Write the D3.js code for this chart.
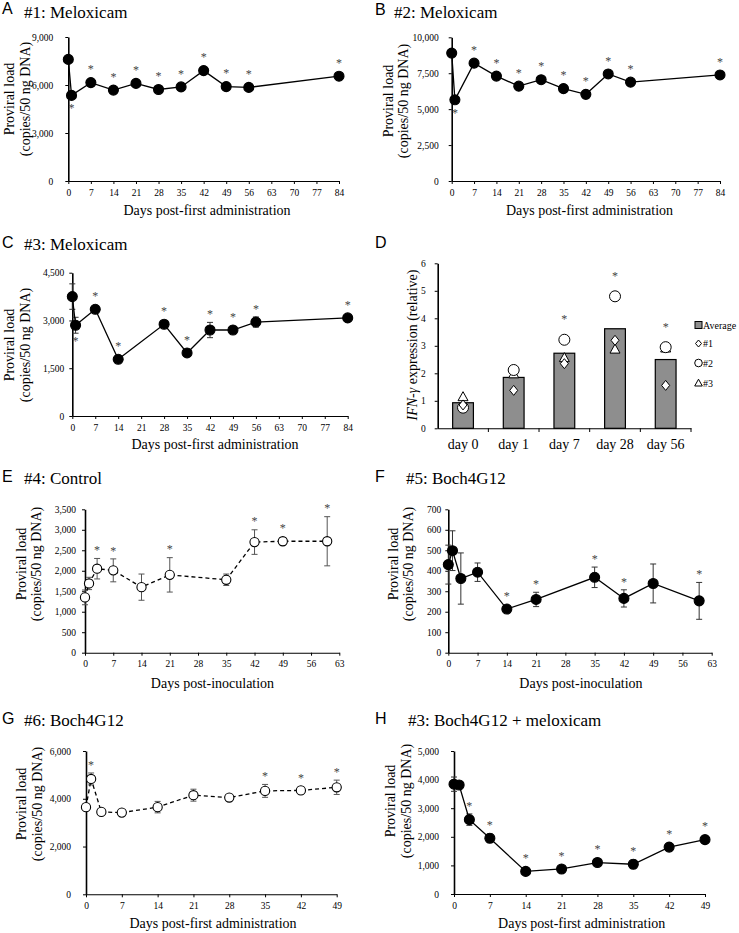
<!DOCTYPE html>
<html><head><meta charset="utf-8">
<script src="https://cdn.jsdelivr.net/npm/d3@7"></script>
<style>body{margin:0;background:#fff}</style>
</head><body>
<svg id="c" width="739" height="933" style="display:block"></svg>
<script>
// ---------- DATA ----------
const daysA = [0,1,7,14,21,28,35,42,49,56,84];
const loadA = [7600,5350,6150,5680,6100,5720,5880,6900,5900,5850,6550];
const errA  = [120,80,180,60,60,130,60,60,60,200,60];
const starsA = [7,14,21,28,35,42,49,56,84];
const belowA = [1];

const daysB = [0,1,7,14,21,28,35,42,49,56,84];
const loadB = [8900,5650,8200,7300,6600,7050,6430,6030,7450,6880,7380];
const errB  = [60,60,60,60,60,60,60,60,60,60,60];
const starsB = [7,14,21,28,35,42,49,56,84];
const belowB = [1];

const daysC = [0,1,7,14,28,35,42,49,56,84];
const loadC = [3750,2850,3350,1780,2880,1980,2700,2700,2950,3080];
const errC  = [400,250,40,40,40,40,240,40,160,40];
const starsC = [7,14,28,35,42,49,56,84];
const belowC = [1];

const ifnDays = ["day 0","day 1","day 7","day 28","day 56"];
const ifnAvg  = [0.93,1.85,2.73,3.62,2.50];
const ifn1    = [0.85,1.38,2.35,3.20,1.56];   // #1 diamonds
const ifn2    = [0.75,2.12,3.22,4.80,2.95];   // #2 circles
const ifn3    = [1.15,1.98,2.57,2.88,2.92];   // #3 triangles
const ifnStars = ["day 7","day 28","day 56"];
const ifnLegend = ["Average","#1","#2","#3"];
const ifnTicks = [0,1,2,3,4,5,6];

const daysE = [0,1,3,7,14,21,35,42,49,60];
const loadE = [1350,1690,2050,2010,1600,1900,1780,2700,2720,2720];
const errE  = [180,150,250,280,320,420,140,300,90,600];
const starsE = [3,7,21,42,49,60];

const daysF = [0,1,3,7,14,21,35,42,49,60];
const loadF = [430,498,362,393,213,260,368,265,338,253];
const errF  = [95,97,125,45,10,35,50,42,95,90];
const starsF = [14,21,35,42,60];

const daysG = [0,1,3,7,14,21,28,35,42,49];
const loadG = [3650,4830,3450,3420,3650,4150,4050,4330,4350,4480];
const errG  = [150,250,100,60,240,250,80,270,150,300];
const starsG = [1,35,42,49];

const daysH = [0,1,3,7,14,21,28,35,42,49];
const loadH = [3840,3810,2600,1950,790,875,1100,1040,1640,1900];
const errH  = [250,60,200,150,60,60,100,150,60,70];
const starsH = [3,7,14,21,28,35,42,49];

const xTicks84 = [0,7,14,21,28,35,42,49,56,63,70,77,84];
const xTicks63 = [0,7,14,21,28,35,42,49,56,63];
const xTicks49 = [0,7,14,21,28,35,42,49];
const yTicksA = [0,3000,6000,9000];
const yTicksB = [0,2500,5000,7500,10000];
const yTicksC = [0,1500,3000,4500];
const yTicksE = [0,500,1000,1500,2000,2500,3000,3500];
const yTicksF = [0,100,200,300,400,500,600,700];
const yTicksG = [0,2000,4000,6000];
const yTicksH = [0,1000,2000,3000,4000,5000];

// ---------- DRAWING ----------
const SERIF = "'Liberation Serif','Times New Roman',serif";
const SANS = "'Liberation Sans',Arial,sans-serif";
const svg = d3.select("#c");

function heading(letter, lx, ly, title, tx, ty) {
  svg.append("text").attr("x", lx).attr("y", ly).attr("font-family", SANS)
    .attr("font-size", 16).attr("fill", "#000").text(letter);
  if (title) svg.append("text").attr("x", tx).attr("y", ty).attr("font-family", SERIF)
    .attr("font-size", 17).attr("fill", "#000").text(title);
}

function yTitle2(x1, x2, cy) {
  [["Proviral load", x1], ["(copies/50 ng DNA)", x2]].forEach(([t, xx]) => {
    svg.append("text").attr("transform", `translate(${xx},${cy}) rotate(-90)`)
      .attr("text-anchor", "middle").attr("dominant-baseline", "central")
      .attr("font-family", SERIF).attr("font-size", 14).attr("fill", "#000").text(t);
  });
}

function linePanel(p) {
  const g = svg.append("g");
  const x = d3.scaleLinear().domain([0, p.xMax]).range([p.xl, p.xr]);
  const y = d3.scaleLinear().domain([0, p.yMax]).range([p.yb, p.yt]);

  const xa = g.append("g").attr("transform", `translate(0,${p.yb})`)
    .call(d3.axisBottom(x).tickValues(p.xTicks).tickFormat(d3.format("d")).tickSize(3).tickSizeOuter(0).tickPadding(5));
  xa.select(".domain").attr("stroke", "#000").attr("stroke-width", 1.1);
  xa.selectAll("line").attr("stroke", "#000");
  xa.selectAll("text").attr("font-family", SERIF).attr("font-size", 9.5).attr("fill", "#000");

  const ya = g.append("g").attr("transform", `translate(${p.xl},0)`)
    .call(d3.axisLeft(y).tickValues(p.yTicks).tickFormat(d3.format(",")).tickSize(3).tickSizeOuter(0).tickPadding(p.yPad));
  ya.select(".domain").attr("stroke", "#000").attr("stroke-width", 1.6);
  ya.selectAll("line").attr("stroke", "#000");
  ya.selectAll("text").attr("font-family", SERIF).attr("font-size", 9.5).attr("fill", "#000");

  const pts = p.days.map((d, i) => ({ d, v: p.vals[i], e: p.errs[i] }));
  const r = p.open ? 4.6 : 5;

  const eb = g.append("g").attr("stroke", p.open ? "#555" : "#333").attr("stroke-width", 1).attr("fill", "none");
  pts.forEach(o => {
    const cx = x(o.d), t = y(o.v + o.e), b = y(o.v - o.e);
    eb.append("line").attr("x1", cx).attr("x2", cx).attr("y1", t).attr("y2", b);
    eb.append("line").attr("x1", cx - 3).attr("x2", cx + 3).attr("y1", t).attr("y2", t);
    eb.append("line").attr("x1", cx - 3).attr("x2", cx + 3).attr("y1", b).attr("y2", b);
  });

  g.append("path").datum(pts)
    .attr("d", d3.line().x(o => x(o.d)).y(o => y(o.v)))
    .attr("fill", "none").attr("stroke", "#000").attr("stroke-width", 1.3)
    .attr("stroke-dasharray", p.open ? "4,3" : null);

  g.selectAll("circle.m").data(pts).join("circle")
    .attr("cx", o => x(o.d)).attr("cy", o => y(o.v)).attr("r", r)
    .attr("fill", p.open ? "#fff" : "#000").attr("stroke", "#000").attr("stroke-width", 1.1);

  const byDay = d => pts.find(o => o.d === d);
  (p.stars || []).forEach(d => {
    const o = byDay(d);
    const top = Math.min(y(o.v + o.e), y(o.v) - r);
    g.append("text").attr("x", x(d)).attr("y", top - 4.3).attr("text-anchor", "middle")
      .attr("font-family", SERIF).attr("font-size", 12).attr("fill", "#444").text("*");
  });
  (p.below || []).forEach(d => {
    const o = byDay(d);
    const bot = Math.max(y(o.v - o.e), y(o.v) + r);
    g.append("text").attr("x", x(d)).attr("y", bot + 12).attr("text-anchor", "middle")
      .attr("font-family", SERIF).attr("font-size", 12).attr("fill", "#444").text("*");
  });

  svg.append("text").attr("x", p.xtX).attr("y", p.xtY).attr("text-anchor", "middle")
    .attr("font-family", SERIF).attr("font-size", 14).attr("fill", "#000").text(p.xTitle);
  yTitle2(p.yl1, p.yl2, p.ylc);
}

// Panel A
heading("A", 2, 14, "#1: Meloxicam", 24, 18);
linePanel({xl: 68.3, xr: 339, yt: 37, yb: 181, xMax: 84, yMax: 9000, xTicks: xTicks84, yTicks: yTicksA, yPad: 12,
  days: daysA, vals: loadA, errs: errA, stars: starsA, below: belowA, open: false,
  xTitle: "Days post-first administration", xtX: 207, xtY: 215, yl1: 9.5, yl2: 25, ylc: 99});

// Panel B
heading("B", 375, 15, "#2: Meloxicam", 394, 18);
linePanel({xl: 451.7, xr: 720, yt: 37.3, yb: 181, xMax: 84, yMax: 10000, xTicks: xTicks84, yTicks: yTicksB, yPad: 10,
  days: daysB, vals: loadB, errs: errB, stars: starsB, below: belowB, open: false,
  xTitle: "Days post-first administration", xtX: 589.5, xtY: 215, yl1: 388.3, yl2: 403.3, ylc: 101});

// Panel C
heading("C", 2, 248, "#3: Meloxicam", 24, 250);
linePanel({xl: 72.3, xr: 347.7, yt: 272.7, yb: 416, xMax: 84, yMax: 4500, xTicks: xTicks84, yTicks: yTicksC, yPad: 5,
  days: daysC, vals: loadC, errs: errC, stars: starsC, below: belowC, open: false,
  xTitle: "Days post-first administration", xtX: 215, xtY: 449, yl1: 9.5, yl2: 25, ylc: 345});

// Panel D
heading("D", 375, 248, null);
(function () {
  const g = svg.append("g");
  const xb = d3.scaleBand().domain(ifnDays).range([437.7, 691]).padding(0);
  const y = d3.scaleLinear().domain([0, 6]).range([428.3, 263.3]);
  const bw = xb.bandwidth(), barW = bw * 0.41;

  g.selectAll("rect.bar").data(ifnDays).join("rect")
    .attr("x", (c) => xb(c) + (bw - barW) / 2).attr("width", barW)
    .attr("y", (c, i) => y(ifnAvg[i])).attr("height", (c, i) => y(0) - y(ifnAvg[i]))
    .attr("fill", "#8e8e8e").attr("stroke", "#000").attr("stroke-width", 1.2);

  const ya = g.append("g").attr("transform", "translate(437.7,0)")
    .call(d3.axisLeft(y).tickValues(ifnTicks).tickFormat(d3.format("d")).tickSize(3).tickSizeOuter(0).tickPadding(9));
  ya.select(".domain").attr("stroke", "#000").attr("stroke-width", 1.6);
  ya.selectAll("line").attr("stroke", "#000");
  ya.selectAll("text").attr("font-family", SERIF).attr("font-size", 9.5).attr("fill", "#000");

  const xa = g.append("g").attr("transform", "translate(0,428.3)")
    .call(d3.axisBottom(xb).tickSize(0).tickSizeOuter(0).tickPadding(11));
  xa.select(".domain").attr("stroke", "#000").attr("stroke-width", 1.1);
  xa.selectAll("text").attr("font-family", SERIF).attr("font-size", 14).attr("fill", "#000");
  ifnDays.forEach(c => {
    const bx = xb(c) + bw;
    g.append("line").attr("x1", bx).attr("x2", bx).attr("y1", 428.3).attr("y2", 432).attr("stroke", "#000");
  });

  const diamond = "M0,-5L4,0L0,5L-4,0Z";
  const tri = "M0,-5L5,4L-5,4Z";
  const mk = (sel) => sel.attr("fill", "#fff").attr("stroke", "#000").attr("stroke-width", 1);
  ifnDays.forEach((c, i) => {
    const cx = xb(c) + bw / 2;
    mk(g.append("path").attr("d", tri).attr("transform", `translate(${cx},${y(ifn3[i])})`));
    mk(g.append("circle").attr("cx", cx).attr("cy", y(ifn2[i])).attr("r", 5.5));
    mk(g.append("path").attr("d", diamond).attr("transform", `translate(${cx},${y(ifn1[i])})`));
  });
  ifnStars.forEach(c => {
    const i = ifnDays.indexOf(c);
    const mx = Math.max(ifn1[i], ifn2[i], ifn3[i]);
    g.append("text").attr("x", xb(c) + bw / 2).attr("y", y(mx) - 5.5 - 11).attr("text-anchor", "middle")
      .attr("font-family", SERIF).attr("font-size", 12).attr("fill", "#444").text("*");
  });

  const ly = [325, 343.5, 363, 383];
  ifnLegend.forEach((t, i) => {
    const lg = g.append("g").attr("transform", `translate(698.5,${ly[i]})`);
    if (i === 0) lg.append("rect").attr("x", -3.5).attr("y", -3.5).attr("width", 7).attr("height", 7)
      .attr("fill", "#8e8e8e").attr("stroke", "#000");
    if (i === 1) mk(lg.append("path").attr("d", "M0,-3.5L3,0L0,3.5L-3,0Z"));
    if (i === 2) mk(lg.append("circle").attr("r", 3.8));
    if (i === 3) mk(lg.append("path").attr("d", "M0,-3.8L3.8,3L-3.8,3Z"));
    lg.append("text").attr("x", 4.5).attr("y", 0).attr("dominant-baseline", "central")
      .attr("font-family", SERIF).attr("font-size", 10).attr("fill", "#000").text(t);
  });

  const yt = svg.append("text").attr("transform", "translate(412,345) rotate(-90)")
    .attr("text-anchor", "middle").attr("dominant-baseline", "central")
    .attr("font-family", SERIF).attr("font-size", 14).attr("fill", "#000");
  yt.append("tspan").attr("font-style", "italic").text("IFN-γ");
  yt.append("tspan").text(" expression (relative)");
})();

// Panel E
heading("E", 2, 482, "#4: Control", 24, 483.5);
linePanel({xl: 85, xr: 339.3, yt: 509.3, yb: 652.7, xMax: 63, yMax: 3500, xTicks: xTicks63, yTicks: yTicksE, yPad: 6,
  days: daysE, vals: loadE, errs: errE, stars: starsE, open: true,
  xTitle: "Days post-inoculation", xtX: 212.5, xtY: 688, yl1: 21.7, yl2: 36.7, ylc: 564});

// Panel F
heading("F", 375, 482, "#5: Boch4G12", 406, 483.5);
linePanel({xl: 448.3, xr: 711.7, yt: 509.3, yb: 652.7, xMax: 63, yMax: 700, xTicks: xTicks63, yTicks: yTicksF, yPad: 4,
  days: daysF, vals: loadF, errs: errF, stars: starsF, open: false,
  xTitle: "Days post-inoculation", xtX: 581, xtY: 688, yl1: 393.3, yl2: 408.3, ylc: 564});

// Panel G
heading("G", 2, 724, "#6: Boch4G12", 24, 725.5);
linePanel({xl: 86, xr: 336.7, yt: 751, yb: 894.3, xMax: 49, yMax: 6000, xTicks: xTicks49, yTicks: yTicksG, yPad: 12,
  days: daysG, vals: loadG, errs: errG, stars: starsG, open: true,
  xTitle: "Days post-first administration", xtX: 213, xtY: 928, yl1: 21.7, yl2: 37.3, ylc: 804});

// Panel H
heading("H", 375, 724, "#3: Boch4G12 + meloxicam", 408, 725.5);
linePanel({xl: 454, xr: 705, yt: 751, yb: 894, xMax: 49, yMax: 5000, xTicks: xTicks49, yTicks: yTicksH, yPad: 12,
  days: daysH, vals: loadH, errs: errH, stars: starsH, open: false,
  xTitle: "Days post-first administration", xtX: 581.7, xtY: 928, yl1: 390, yl2: 406, ylc: 801});
</script>
</body></html>
